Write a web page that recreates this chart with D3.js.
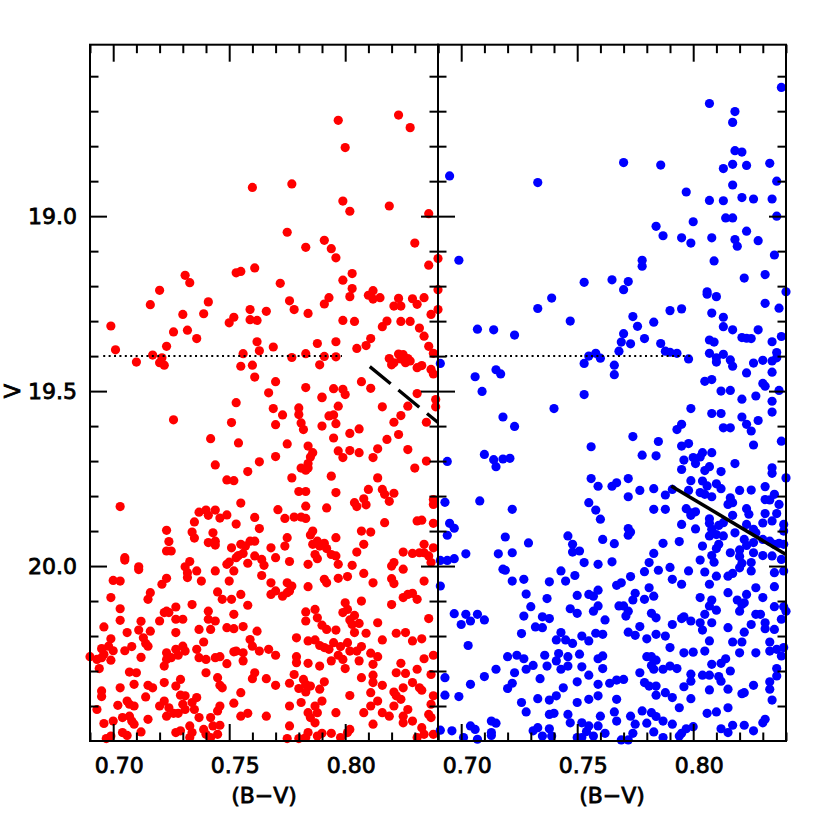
<!DOCTYPE html>
<html>
<head>
<meta charset="utf-8">
<script src="https://cdn.jsdelivr.net/npm/d3@7"></script>
<style>
  body { margin: 0; background: #fff; }
  svg text { font-family: "DejaVu Sans", sans-serif; fill: #000; stroke: #000; stroke-width: 0.8px; }
</style>
</head>
<body>
<svg id="cmd" width="830" height="830"></svg>
<script>
// (B-V, V)
var redStars = [
 [.797,18.726],[.823,18.711],[.828,18.747],[.800,18.804],[.760,18.918],[.777,18.908],[.799,18.957],[.802,18.986],[.819,18.971],[.836,18.993],
 [.775,19.046],[.791,19.069],[.783,19.089],[.794,19.093],[.796,19.119],[.830,19.077],[.836,19.14],[.840,19.121],[.731,19.169],[.733,19.19],
 [.720,19.212],[.716,19.253],[.753,19.162],[.755,19.158],[.761,19.148],[.772,19.192],[.799,19.183],[.803,19.164],[.803,19.207],[.802,19.23],
 [.812,19.213],[.810,19.226],[.812,19.237],[.815,19.233],[.823,19.235],[.821,19.257],[.824,19.257],[.829,19.236],[.831,19.252],[.834,19.233],
 [.840,19.21],[.840,19.267],[.837,19.281],[.741,19.245],[.739,19.279],[.730,19.281],[.699,19.314],[.701,19.382],[.710,19.417],[.726,19.331],
 [.732,19.326],[.736,19.35],[.723,19.372],[.717,19.397],[.720,19.419],[.722,19.426],[.721,19.405],[.750,19.305],[.752,19.289],[.759,19.267],
 [.759,19.296],[.762,19.298],[.766,19.272],[.776,19.242],[.778,19.267],[.784,19.278],[.791,19.251],[.793,19.233],[.799,19.298],[.804,19.301],
 [.816,19.316],[.818,19.30],[.824,19.301],[.828,19.301],[.832,19.32],[.834,19.343],[.836,19.372],[.838,19.392],[.762,19.359],[.763,19.385],
 [.756,19.393],[.769,19.374],[.755,19.429],[.760,19.426],[.761,19.46],[.770,19.473],[.767,19.505],[.777,19.404],[.783,19.393],[.788,19.364],
 [.791,19.401],[.796,19.359],[.796,19.402],[.789,19.425],[.805,19.378],[.809,19.37],[.811,19.35],[.819,19.407],[.821,19.419],[.820,19.425],
 [.823,19.394],[.824,19.408],[.825,19.396],[.827,19.407],[.826,19.419],[.828,19.414],[.831,19.433],[.833,19.427],[.837,19.438],[.838,19.451],
 [.807,19.473],[.811,19.492],[.783,19.49],[.790,19.517],[.795,19.493],[.799,19.495],[.800,19.51],[.831,19.507],
 [.827,19.543],[.839,19.524],[.839,19.545],[.753,19.533],[.751,19.59],[.754,19.648],[.742,19.636],[.726,19.582],[.744,19.711],[.749,19.754],
 [.752,19.756],[.758,19.73],[.763,19.702],[.770,19.687],[.769,19.55],[.773,19.568],[.770,19.596],[.780,19.548],[.780,19.567],[.781,19.591],
 [.782,19.61],[.775,19.651],[.784,19.657],[.786,19.676],[.785,19.688],[.784,19.707],[.784,19.72],[.781,19.72],[.783,19.726],[.790,19.60],
 [.790,19.519],[.793,19.571],[.795,19.568],[.797,19.543],[.796,19.593],[.795,19.634],[.802,19.621],[.806,19.608],[.797,19.671],[.799,19.69],
 [.802,19.67],[.806,19.676],[.794,19.743],[.796,19.79],[.792,19.834],[.777,19.748],[.780,19.787],[.783,19.787],[.783,19.829],[.771,19.839],
 [.774,19.864],[.778,19.86],[.781,19.86],[.783,19.864],[.755,19.82],[.761,19.861],[.753,19.88],[.763,19.893],[.737,19.846],[.740,19.84],
 [.744,19.84],[.741,19.855],[.746,19.863],[.749,19.854],[.735,19.874],[.734,19.903],[.735,19.92],[.743,19.905],[.741,19.933],[.744,19.929],
 [.744,19.94],[.723,19.898],[.724,19.93],[.723,19.957],[.725,19.957],[.703,19.83],[.705,19.976],[.705,19.983],[.711,20.002],[.731,20.002],
 [.733,19.987],[.751,19.948],[.755,19.938],[.757,19.943],[.759,19.929],[.761,19.929],[.756,19.964],[.761,19.971],[.764,19.981],[.765,19.998],
 [.768,19.948],[.770,19.976],[.774,19.943],[.775,19.919],[.776,19.987],[.758,19.992],[.749,19.995],[.750,19.989],[.753,19.976],[.754,19.97],
 [.785,19.911],[.786,19.90],[.786,19.938],[.788,19.929],[.789,19.943],[.791,19.935],[.792,19.95],[.794,19.967],[.796,19.971],[.796,19.919],
 [.797,19.995],[.787,19.967],[.788,19.979],[.784,19.995],[.803,19.998],[.805,19.96],[.808,19.938],[.807,19.90],[.811,19.903],
 [.804,19.819],[.805,19.83],[.808,19.808],[.809,19.825],[.810,19.781],[.814,19.748],[.816,19.781],[.817,19.795],[.819,19.815],[.821,19.792],
 [.817,19.876],[.812,19.69],[.814,19.665],[.818,19.638],[.823,19.624],[.821,19.589],[.824,19.57],[.827,19.667],[.830,19.72],[.835,19.70],
 [.835,19.589],[.816,19.545],[.838,19.81],[.838,19.824],[.831,19.871],[.833,19.869],[.838,19.878],[.834,19.938],[.838,19.948],[.825,19.96],
 [.829,19.964],[.832,19.962],[.834,19.962],[.836,19.971],[.837,19.99],[.820,20.0],[.821,19.99],[.825,20.009],
 [.700,20.041],[.703,20.043],[.711,20.01],[.699,20.09],[.703,20.122],[.703,20.155],[.696,20.174],[.699,20.208],[.698,20.229],[.695,20.236],
 [.696,20.252],[.695,20.262],[.694,20.293],[.690,20.259],[.693,20.267],[.700,20.242],[.699,20.269],[.705,20.242],[.706,20.19],[.708,20.23],
 [.707,20.303],[.710,20.305],[.712,20.158],[.712,20.261],[.711,20.183],[.713,20.205],[.714,20.221],[.716,20.186],[.715,20.229],[.715,20.095],
 [.716,20.076],[.720,20.157],[.722,20.133],[.723,20.129],[.724,20.133],[.727,20.117],[.721,20.052],[.723,20.035],[.727,20.152],[.730,20.152],
 [.727,20.19],[.723,20.248],[.727,20.238],[.728,20.255],[.730,20.229],[.731,20.243],[.725,20.262],[.723,20.267],[.722,20.286],[.734,20.11],
 [.737,20.181],[.741,20.129],[.741,20.152],[.744,20.157],[.742,20.181],[.740,20.267],[.739,20.217],[.736,20.238],[.737,20.262],[.744,20.262],
 [.746,20.259],[.749,20.176],[.752,20.179],[.756,20.173],[.752,20.138],[.751,20.095],[.755,20.081],[.747,20.095],[.745,20.074],[.732,20.019],
 [.732,20.033],[.736,20.014],[.738,20.043],[.744,20.014],[.750,20.043],[.752,20.014],[.756,20.248],[.753,20.243],[.752,20.245],[.749,20.279],
 [.756,20.271],[.758,20.112],[.762,20.186],[.759,20.21],[.760,20.229],[.763,20.243],[.767,20.238],[.770,20.255],[.761,20.305],[.760,20.322],
 [.766,20.322],[.770,20.341],[.776,20.335],[.764,20.027],[.768,20.048],[.768,20.081],[.770,20.071],[.773,20.086],[.775,20.076],[.776,20.071],
 [.775,20.048],[.777,20.057],[.784,20.059],[.783,20.131],[.783,20.157],[.787,20.124],[.788,20.148],[.790,20.169],[.792,20.181],[.791,20.233],
 [.793,20.238],[.796,20.183],[.779,20.205],[.784,20.214],[.787,20.211],[.789,20.227],[.779,20.259],[.779,20.276],[.784,20.278],[.789,20.286],
 [.794,20.271],[.795,20.219],[.798,20.23],[.797,20.255],[.799,20.267],[.800,20.293],[.802,20.243],[.801,20.219],[.791,20.038],[.792,20.048],
 [.797,20.035],[.801,20.03],[.808,20.021],[.812,20.048],[.820,20.036],[.821,20.05],[.829,20.078],[.834,20.043],[.825,20.09],[.827,20.081],
 [.831,20.095],[.820,20.11],[.836,20.15],[.800,20.105],[.799,20.133],[.801,20.124],[.802,20.154],[.804,20.141],[.807,20.10],[.803,20.167],
 [.806,20.164],[.804,20.19],[.809,20.192],[.814,20.162],[.816,20.211],[.822,20.192],[.826,20.19],[.829,20.214],[.833,20.208],[.838,20.255],
 [.834,20.265],[.807,20.23],[.805,20.243],[.811,20.249],[.814,20.259],[.812,20.281],[.824,20.278],[.826,20.307],[.831,20.295],[.837,20.31],
 [.822,20.305],[.806,20.271],[.812,20.312],[.802,20.37],[.807,20.319],[.812,20.333],[.816,20.341],[.811,20.362],[.821,20.36],[.822,20.371],
 [.824,20.381],[.825,20.348],[.829,20.333],[.832,20.348],[.833,20.355],[.838,20.371],[.837,20.395],[.821,20.40],[.827,20.41],[.825,20.429],
 [.825,20.448],[.829,20.443],[.836,20.424],[.837,20.433],[.833,20.462],[.831,20.49],[.834,20.481],[.838,20.481],[.808,20.419],[.812,20.452],
 [.816,20.419],[.819,20.429],[.811,20.40],[.814,20.386],[.802,20.467],[.801,20.476],[.798,20.49],[.794,20.478],[.790,20.478],[.788,20.486],
 [.784,20.476],[.783,20.49],[.796,20.419],[.788,20.419],[.787,20.40],[.784,20.419],[.785,20.433],[.787,20.448],[.781,20.39],[.776,20.40],
 [.776,20.457],[.775,20.493],[.780,20.493],[.778,20.31],[.783,20.338],[.785,20.343],[.780,20.35],[.783,20.36],[.791,20.331],[.789,20.352],
 [.782,20.324],[.790,20.386],[.766,20.429],[.758,20.421],[.755,20.429],[.752,20.392],[.755,20.362],[.746,20.40],[.745,20.414],[.742,20.433],
 [.743,20.457],[.746,20.455],[.745,20.481],[.742,20.49],[.740,20.481],[.739,20.467],[.737,20.433],[.735,20.41],[.734,20.39],[.736,20.376],
 [.731,20.371],[.731,20.41],[.729,20.369],[.730,20.395],[.727,20.343],[.729,20.324],[.722,20.333],[.720,20.40],[.724,20.405],[.726,20.421],
 [.728,20.421],[.729,20.471],[.727,20.476],[.722,20.386],[.723,20.429],[.733,20.457],[.734,20.476],[.733,20.49],[.709,20.338],[.715,20.341],
 [.717,20.348],[.714,20.374],[.709,20.40],[.707,20.395],[.706,20.386],[.707,20.429],[.708,20.443],[.709,20.452],[.712,20.474],[.715,20.438],
 [.704,20.433],[.700,20.443],[.696,20.45],[.693,20.41],[.695,20.373],[.695,20.357],[.703,20.348],[.702,20.398],[.704,20.476],[.706,20.484],
 [.699,20.486],[.697,20.493],[.745,20.319],[.746,20.341],[.747,20.348],[.740,20.305]
];

var blueStars = [
 [.838,18.632],[.807,18.678],[.818,18.701],[.817,18.732],[.818,18.813],[.821,18.817],[.770,18.847],[.786,18.854],[.813,18.864],[.817,18.852],
 [.823,18.855],[.833,18.849],[.695,18.885],[.733,18.904],[.836,18.90],[.817,18.911],[.797,18.931],[.807,18.955],[.813,18.956],[.821,18.947],
 [.826,18.951],[.834,18.951],[.814,19.005],[.817,19.005],[.836,19.0],[.800,19.016],
 [.784,19.029],[.787,19.056],[.795,19.062],[.799,19.077],[.808,19.062],[.818,19.067],[.819,19.086],[.823,19.043],[.828,19.07],[.835,19.111],
 [.809,19.128],[.822,19.177],[.831,19.167],[.840,19.216],[.699,19.126],[.753,19.189],[.765,19.182],[.772,19.187],[.770,19.21],[.778,19.126],
 [.778,19.143],[.739,19.234],[.733,19.264],[.747,19.30],[.707,19.323],[.714,19.325],[.723,19.34],[.691,19.421],[.706,19.459],[.715,19.439],
 [.717,19.451],[.709,19.501],[.753,19.421],[.755,19.40],[.758,19.392],[.760,19.406],[.766,19.426],[.766,19.453],[.753,19.51],[.768,19.386],
 [.769,19.36],[.770,19.336],[.773,19.365],[.774,19.287],[.776,19.315],[.779,19.35],[.783,19.303],[.790,19.27],[.795,19.265],[.786,19.364],
 [.788,19.386],[.790,19.389],[.793,19.392],[.798,19.408],[.806,19.216],[.806,19.223],[.810,19.23],[.808,19.277],[.813,19.289],[.813,19.316],
 [.817,19.325],[.807,19.354],[.809,19.36],[.807,19.392],[.810,19.405],[.810,19.417],[.813,19.395],[.816,19.411],[.817,19.429],[.821,19.347],
 [.823,19.349],[.825,19.35],[.828,19.325],[.831,19.249],[.837,19.263],[.838,19.344],[.834,19.359],[.836,19.39],[.836,19.405],[.834,19.414],
 [.830,19.412],[.826,19.42],[.823,19.448],[.834,19.446],[.805,19.472],[.808,19.467],[.812,19.50],[.816,19.498],[.830,19.478],[.831,19.486],
 [.837,19.498],
 [.740,19.55],[.718,19.574],[.723,19.601],[.710,19.681],[.714,19.696],[.715,19.716],[.718,19.694],[.721,19.692],[.694,19.701],[.693,19.818],
 [.708,19.814],[.722,19.838],[.695,19.878],[.697,19.892],[.694,19.912],[.719,19.917],[.729,19.934],[.702,19.965],[.691,19.984],[.694,19.984],
 [.697,19.979],[.716,19.965],[.722,19.962],[.718,20.009],[.756,19.659],[.774,19.63],[.778,19.683],[.784,19.685],[.785,19.644],[.793,19.61],
 [.795,19.595],[.799,19.55],[.808,19.564],[.812,19.564],[.821,19.523],[.827,19.514],[.834,19.529],[.834,19.56],[.821,19.574],[.823,19.595],
 [.825,19.614],[.828,19.584],[.813,19.605],[.816,19.605],[.826,19.654],[.838,19.643],[.795,19.657],[.798,19.65],[.796,19.697],[.800,19.69],
 [.801,19.707],[.803,19.688],[.804,19.676],[.808,19.676],[.795,19.724],[.799,19.756],[.805,19.727],[.807,19.716],[.812,19.73],[.818,19.707],
 [.834,19.719],[.834,19.735],[.840,19.748],[.804,19.757],[.806,19.771],[.803,19.79],[.805,19.795],[.808,19.802],[.810,19.765],[.812,19.779],
 [.820,19.784],[.825,19.783],[.831,19.773],[.798,19.784],[.791,19.781],[.788,19.797],[.783,19.779],[.777,19.784],[.772,19.802],[.772,19.75],
 [.767,19.762],[.765,19.772],[.759,19.772],[.756,19.75],[.755,19.819],[.758,19.84],[.760,19.866],[.783,19.838],[.788,19.838],[.797,19.836],
 [.799,19.848],[.801,19.845],[.799,19.855],[.795,19.881],[.801,19.894],[.807,19.865],[.807,19.878],[.808,19.895],[.807,19.914],[.811,19.884],
 [.813,19.876],[.810,19.91],[.811,19.938],[.810,19.95],[.813,19.914],[.817,19.855],[.815,19.824],[.816,19.805],[.817,19.819],[.823,19.836],
 [.824,19.852],[.831,19.81],[.833,19.811],[.835,19.795],[.837,19.824],[.831,19.85],[.836,19.85],[.834,19.871],[.830,19.877],[.839,19.881],
 [.839,19.90],[.818,19.905],[.823,19.881],[.826,19.895],[.827,19.905],[.822,19.924],[.820,19.954],[.823,19.941],[.826,19.933],[.830,19.924],
 [.833,19.929],[.835,19.938],[.837,19.935],[.839,19.938],[.826,19.962],[.830,19.97],[.834,19.971],[.838,19.981],[.839,20.014],[.835,20.019],
 [.816,19.962],[.820,19.973],[.821,19.992],[.820,20.005],[.817,20.021],[.815,20.029],[.825,20.014],[.825,19.99],[.804,19.943],[.808,19.97],
 [.809,19.989],[.803,19.983],[.805,20.017],[.810,20.029],[.798,20.014],[.794,19.93],[.787,19.935],[.783,19.964],[.781,19.99],[.779,20.016],
 [.785,20.012],[.790,20.004],[.772,19.893],[.773,19.903],[.772,19.912],[.761,19.924],[.766,19.936],[.746,19.914],[.748,19.938],[.748,19.96],
 [.751,19.957],[.753,19.99],[.759,19.995],[.765,19.988],
 [.691,20.057],[.697,20.136],[.702,20.138],[.700,20.167],[.704,20.157],[.707,20.138],[.710,20.154],[.703,20.227],[.693,20.319],[.693,20.369],
 [.699,20.373],[.704,20.338],[.710,20.316],[.691,20.469],[.696,20.471],[.701,20.49],[.704,20.457],[.706,20.467],[.707,20.495],[.713,20.443],
 [.715,20.449],[.713,20.476],[.713,20.484],[.715,20.295],[.720,20.259],[.724,20.255],[.727,20.265],[.723,20.305],[.728,20.295],[.731,20.284],
 [.722,20.335],[.720,20.35],[.726,20.193],[.727,20.143],[.730,20.116],[.728,20.08],[.722,20.043],[.727,20.038],[.719,20.012],[.732,20.174],
 [.735,20.176],[.735,20.145],[.738,20.15],[.737,20.093],[.738,20.045],[.743,20.014],[.745,20.043],[.749,20.027],[.726,20.39],[.728,20.417],
 [.733,20.379],[.731,20.471],[.733,20.462],[.735,20.486],[.738,20.465],[.739,20.486],[.738,20.424],[.740,20.421],[.738,20.383],[.741,20.371],
 [.734,20.322],[.736,20.255],[.737,20.286],[.741,20.271],[.742,20.25],[.743,20.295],[.746,20.286],[.746,20.259],[.741,20.211],[.743,20.19],
 [.745,20.211],[.748,20.221],[.752,20.20],[.755,20.214],[.751,20.252],[.752,20.288],[.755,20.312],[.750,20.331],[.744,20.348],[.747,20.122],
 [.750,20.135],[.750,20.084],[.755,20.081],[.757,20.086],[.759,20.069],[.759,20.114],[.757,20.129],[.758,20.192],[.761,20.195],[.762,20.154],
 [.759,20.265],[.761,20.257],[.761,20.293],[.759,20.338],[.755,20.381],[.759,20.371],[.764,20.335],[.767,20.326],[.770,20.324],[.750,20.39],
 [.746,20.424],[.747,20.448],[.752,20.448],[.755,20.457],[.754,20.473],[.752,20.49],[.750,20.49],[.757,20.486],[.759,20.457],[.760,20.429],
 [.762,20.478],[.767,20.381],[.766,20.417],[.767,20.443],[.773,20.429],[.775,20.452],[.774,20.478],[.769,20.497],[.772,20.497],[.778,20.414],
 [.782,20.419],[.784,20.43],[.780,20.449],[.783,20.474],[.787,20.49],[.787,20.443],[.791,20.452],[.794,20.405],[.791,20.376],[.788,20.362],
 [.784,20.369],[.784,20.343],[.781,20.343],[.779,20.333],[.777,20.305],[.780,20.259],[.782,20.259],[.784,20.269],[.782,20.284],[.783,20.295],
 [.787,20.295],[.790,20.286],[.793,20.293],[.790,20.233],[.780,20.208],[.784,20.195],[.788,20.20],[.772,20.189],[.775,20.198],[.777,20.173],
 [.771,20.143],[.772,20.129],[.770,20.114],[.768,20.114],[.774,20.097],[.775,20.078],[.779,20.095],[.781,20.062],[.783,20.086],[.782,20.135],
 [.784,20.148],[.791,20.167],[.796,20.145],[.799,20.157],[.767,20.055],[.769,20.048],[.773,20.03],[.791,20.038],[.795,20.052],[.807,20.052],
 [.815,20.076],[.819,20.097],[.822,20.105],[.823,20.081],[.827,20.062],[.830,20.09],[.835,20.059],[.803,20.09],[.808,20.097],[.807,20.114],
 [.810,20.126],[.805,20.138],[.803,20.162],[.808,20.162],[.804,20.183],[.800,20.246],[.805,20.243],[.807,20.214],[.796,20.248],[.795,20.15],
 [.815,20.176],[.817,20.217],[.821,20.217],[.820,20.248],[.827,20.248],[.822,20.189],[.825,20.167],[.827,20.138],[.829,20.138],[.831,20.162],
 [.831,20.179],[.835,20.181],[.833,20.217],[.833,20.243],[.836,20.238],[.839,20.233],[.838,20.257],[.836,20.293],[.836,20.314],[.835,20.116],
 [.839,20.116],[.840,20.129],[.838,20.152],[.820,20.129],[.821,20.11],[.808,20.281],[.812,20.278],[.814,20.265],[.816,20.30],[.811,20.316],
 [.812,20.329],[.815,20.352],[.821,20.365],[.822,20.362],[.826,20.341],[.833,20.331],[.833,20.352],[.834,20.383],[.807,20.312],[.804,20.312],
 [.799,20.309],[.799,20.329],[.796,20.345],[.799,20.379],[.807,20.354],[.806,20.421],[.810,20.417],[.815,20.405],[.812,20.465],[.815,20.476],
 [.817,20.455],[.822,20.455],[.826,20.471],[.831,20.438],[.830,20.448],[.797,20.465],[.795,20.478],[.800,20.459],[.794,20.486]
];

// reference lines
var hbLevel = [[0.6957, 19.40], [0.7986, 19.40]];
var hbLevelRight = [[0.6931, 19.40], [0.7987, 19.40]];
var dashedLine = [[0.8106, 19.43], [0.840, 19.59]];
var solidLine = [[0.7905, 19.771], [0.840, 19.967]];

var xMajor = [0.70, 0.75, 0.80];
var xMinor = [0.69, 0.71, 0.72, 0.73, 0.74, 0.76, 0.77, 0.78, 0.79, 0.81, 0.82, 0.83, 0.84];
var yMajor = [19.0, 19.5, 20.0];
var yMinor = [18.6, 18.7, 18.8, 18.9, 19.1, 19.2, 19.3, 19.4, 19.6, 19.7, 19.8, 19.9, 20.1, 20.2, 20.3, 20.4];

var dims = { top: 44.7, bottom: 741, panelW: 348, left0: 90 };

var svg = d3.select("#cmd");

var y = d3.scaleLinear().domain([18.51, 20.5]).range([dims.top, dims.bottom]);

function drawPanel(x0, stars, color, extra) {
  var x = d3.scaleLinear().domain([0.69, 0.84]).range([x0, x0 + dims.panelW]);
  var g = svg.append("g");

  // stars
  g.append("g").selectAll("circle")
    .data(stars)
    .join("circle")
    .attr("cx", d => x(d[0]))
    .attr("cy", d => y(d[1]))
    .attr("r", 4.6)
    .style("fill", color);

  // frame
  g.append("rect")
    .attr("x", x0).attr("y", dims.top)
    .attr("width", dims.panelW).attr("height", dims.bottom - dims.top)
    .attr("fill", "none").attr("stroke", "#000").attr("stroke-width", 2);

  function ticks(axis, vals, len, transform) {
    var a = g.append("g")
      .attr("transform", transform)
      .call(axis.tickValues(vals).tickSize(-len).tickFormat(""));
    a.select(".domain").remove();
    a.selectAll("line").attr("stroke", "#000").attr("stroke-width", 2);
  }
  ticks(d3.axisBottom(x), xMajor, 17, "translate(0," + dims.bottom + ")");
  ticks(d3.axisBottom(x), xMinor, 8.5, "translate(0," + dims.bottom + ")");
  ticks(d3.axisTop(x), xMajor, 17, "translate(0," + dims.top + ")");
  ticks(d3.axisTop(x), xMinor, 8.5, "translate(0," + dims.top + ")");
  ticks(d3.axisLeft(y), yMajor, 17, "translate(" + x0 + ",0)");
  ticks(d3.axisLeft(y), yMinor, 8.5, "translate(" + x0 + ",0)");
  ticks(d3.axisRight(y), yMajor, 17, "translate(" + (x0 + dims.panelW) + ",0)");
  ticks(d3.axisRight(y), yMinor, 8.5, "translate(" + (x0 + dims.panelW) + ",0)");

  // x tick labels
  g.selectAll("text.xl")
    .data(xMajor)
    .join("text")
    .attr("class", "xl")
    .attr("x", d => x(d) + 6)
    .attr("y", 773)
    .attr("text-anchor", "middle")
    .style("font-size", "22px")
    .text(d => d.toFixed(2));

  g.append("text")
    .attr("x", x0 + dims.panelW / 2)
    .attr("y", 803)
    .attr("text-anchor", "middle")
    .style("font-size", "22px")
    .text("(B\u2212V)");

  var line = d3.line().x(d => x(d[0])).y(d => y(d[1]));
  extra(g, line);
}

drawPanel(dims.left0, redStars, "#ff0000", function(g, line) {
  g.append("path").attr("d", line(hbLevel))
    .attr("stroke", "#000").attr("stroke-width", 2).attr("fill", "none")
    .attr("stroke-dasharray", "2,3.4");
  g.append("path").attr("d", line(dashedLine))
    .attr("stroke", "#000").attr("stroke-width", 3.3).attr("fill", "none")
    .attr("stroke-dasharray", "27,10");
});

drawPanel(dims.left0 + dims.panelW, blueStars, "#0000ff", function(g, line) {
  g.append("path").attr("d", line(hbLevelRight))
    .attr("stroke", "#000").attr("stroke-width", 2).attr("fill", "none")
    .attr("stroke-dasharray", "2,3.4");
  g.append("path").attr("d", line(solidLine))
    .attr("stroke", "#000").attr("stroke-width", 3.5).attr("fill", "none");
});

// y tick labels on the left panel only
svg.selectAll("text.yl")
  .data(yMajor)
  .join("text")
  .attr("class", "yl")
  .attr("x", 77)
  .attr("y", d => y(d) + 8)
  .attr("text-anchor", "end")
  .style("font-size", "22px")
  .text(d => d.toFixed(1));

svg.append("text")
  .attr("transform", "translate(20," + y(19.5) + ") rotate(-90)")
  .attr("text-anchor", "middle")
  .style("font-size", "21px")
  .text("V");
</script>
</body>
</html>
